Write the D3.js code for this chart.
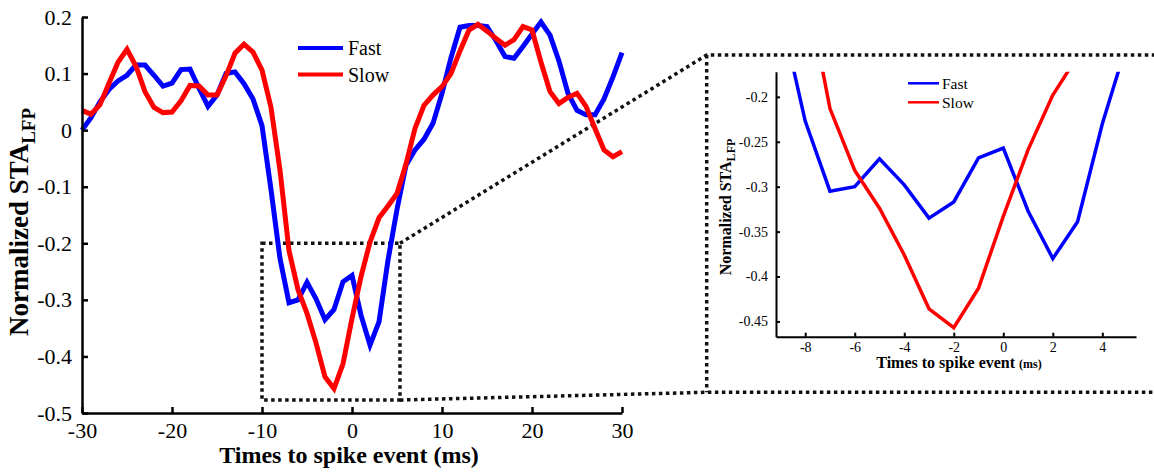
<!DOCTYPE html>
<html>
<head>
<meta charset="utf-8">
<script src="https://cdn.jsdelivr.net/npm/d3@7"></script>
<style>
  body { margin: 0; background: #fff; }
  svg { display: block; font-family: "Liberation Serif", "Times New Roman", serif; }
  svg text { font-family: "Liberation Serif", "Times New Roman", serif; }
</style>
</head>
<body>
<div id="chart"></div>
<script>
// time axis (ms), one sample per ms
const times = d3.range(-30, 31);

const fastValues = [
  0.000, 0.022, 0.050, 0.072, 0.087, 0.097, 0.115, 0.115, 0.097, 0.078,
  0.083, 0.107, 0.108, 0.074, 0.042, 0.062, 0.100, 0.103, 0.082, 0.055,
  0.008, -0.105, -0.227, -0.305, -0.300, -0.269, -0.298, -0.335, -0.317, -0.268,
  -0.257, -0.327, -0.380, -0.339, -0.230, -0.140, -0.062, -0.035, -0.016, 0.012,
  0.065, 0.128, 0.182, 0.185, 0.185, 0.183, 0.158, 0.130, 0.127, 0.148,
  0.170, 0.191, 0.168, 0.122, 0.065, 0.035, 0.027, 0.027, 0.055, 0.094,
  0.137
];

const slowValues = [
  0.035, 0.028, 0.045, 0.083, 0.120, 0.143, 0.113, 0.068, 0.040, 0.031,
  0.032, 0.052, 0.079, 0.078, 0.062, 0.062, 0.096, 0.136, 0.152, 0.138,
  0.106, 0.040, -0.071, -0.213, -0.282, -0.324, -0.376, -0.436, -0.457, -0.413,
  -0.333, -0.259, -0.198, -0.155, -0.134, -0.112, -0.060, 0.003, 0.044, 0.062,
  0.077, 0.100, 0.140, 0.177, 0.187, 0.175, 0.162, 0.150, 0.160, 0.183,
  0.177, 0.120, 0.068, 0.047, 0.058, 0.065, 0.042, 0.003, -0.035, -0.047,
  -0.038
];

const seriesNames = ["Fast", "Slow"];
const seriesColors = ["#0000ff", "#ff0000"];

const mainXTicks = [-30, -20, -10, 0, 10, 20, 30];
const mainYTicks = [0.2, 0.1, 0, -0.1, -0.2, -0.3, -0.4, -0.5];
const insetXTicks = [-8, -6, -4, -2, 0, 2, 4];
const insetYTicks = [-0.2, -0.25, -0.3, -0.35, -0.4, -0.45];

// zoomed window marked on the main plot
const zoomT = [-10, 5.33];
const zoomV = [-0.477, -0.2];

const series = seriesNames.map((name, i) => ({
  name: name,
  color: seriesColors[i],
  values: times.map((t, j) => ({ t: t, v: (i === 0 ? fastValues : slowValues)[j] }))
}));

const W = 1154, H = 474;
const serif = "'Liberation Serif', 'Times New Roman', serif";

const svg = d3.select("#chart").append("svg")
  .attr("width", W)
  .attr("height", H);

const dotted = { stroke: "#111", width: 3.5, dash: "3.5,3.5" };

// ---------- main plot ----------
const x = d3.scaleLinear().domain([-30, 30]).range([82, 622]);
const y = d3.scaleLinear().domain([-0.5, 0.2]).range([413, 17]);

const line = d3.line().x(d => x(d.t)).y(d => y(d.v));

// dotted zoom box + connectors (under the curves)
const bx0 = x(zoomT[0]), bx1 = x(zoomT[1]), by0 = y(zoomV[1]), by1 = y(zoomV[0]);
const frameLeft = 706.7, frameTop = 55, frameBottom = 392.3;

svg.append("rect")
  .attr("x", bx0).attr("y", by0)
  .attr("width", bx1 - bx0).attr("height", by1 - by0)
  .attr("fill", "none")
  .attr("stroke", dotted.stroke)
  .attr("stroke-width", dotted.width)
  .attr("stroke-dasharray", dotted.dash);

svg.append("path")
  .attr("d", `M${bx1},${by0}L${frameLeft},${frameTop}H${W + 5}M${bx1},${by1}L${frameLeft},${frameBottom}H${W + 5}M${frameLeft},${frameTop}V${frameBottom}`)
  .attr("fill", "none")
  .attr("stroke", dotted.stroke)
  .attr("stroke-width", dotted.width)
  .attr("stroke-dasharray", dotted.dash);

svg.append("g")
  .selectAll("path")
  .data(series)
  .enter().append("path")
  .attr("d", d => line(d.values))
  .attr("fill", "none")
  .attr("stroke", d => d.color)
  .attr("stroke-width", 5);

// axes
const xAxis = svg.append("g")
  .attr("transform", "translate(0," + 413 + ")")
  .call(d3.axisBottom(x).tickValues(mainXTicks).tickFormat(d => String(d))
    .tickSizeInner(-6).tickSizeOuter(0).tickPadding(9));
const yAxis = svg.append("g")
  .attr("transform", "translate(" + 82 + ",0)")
  .call(d3.axisLeft(y).tickValues(mainYTicks).tickFormat(d => String(d))
    .tickSizeInner(-6).tickSizeOuter(0).tickPadding(10));

[xAxis, yAxis].forEach(a => {
  a.attr("font-family", serif).attr("font-size", 22);
  a.select(".domain").attr("stroke", "#000").attr("stroke-width", 2.5);
  a.selectAll(".tick line").attr("stroke", "#000").attr("stroke-width", 2.5);
  a.selectAll(".tick text")
    .attr("font-family", serif)
    .style("font-size", "22px").attr("fill", "#000");
});

svg.append("text")
  .attr("x", 349).attr("y", 463)
  .attr("text-anchor", "middle")
  .style("font-size", "24px").style("font-weight", "bold")
  .text("Times to spike event (ms)");

const yTitle = svg.append("text")
  .attr("transform", "translate(28,222) rotate(-90)")
  .attr("text-anchor", "middle")
  .style("font-size", "27px").style("font-weight", "bold");
yTitle.append("tspan").text("Normalized STA");
yTitle.append("tspan").attr("dy", "0.35em").style("font-size", "19px").text("LFP");

// legend
const legend = svg.append("g");
series.forEach((s, i) => {
  const ly = 48 + i * 26.5;
  legend.append("line")
    .attr("x1", 298).attr("x2", 343).attr("y1", ly).attr("y2", ly)
    .attr("stroke", s.color).attr("stroke-width", 4);
  legend.append("text")
    .attr("x", 348).attr("y", ly).attr("dy", "0.35em")
    .style("font-size", "20px").text(s.name);
});

// ---------- inset ----------
const ix = d3.scaleLinear().domain([-9.18, 5.36]).range([776, 1136]);
const iy = d3.scaleLinear().domain([-0.467, -0.172]).range([336.7, 71.7]);

svg.append("clipPath").attr("id", "insetClip")
  .append("rect")
  .attr("x", 776).attr("y", 71.7)
  .attr("width", 1136 - 776).attr("height", 336.7 - 71.7);

const iline = d3.line().x(d => ix(d.t)).y(d => iy(d.v));

svg.append("g")
  .attr("clip-path", "url(#insetClip)")
  .selectAll("path")
  .data(series)
  .enter().append("path")
  .attr("d", d => iline(d.values))
  .attr("fill", "none")
  .attr("stroke", d => d.color)
  .attr("stroke-width", 3.5);

const ixAxis = svg.append("g")
  .attr("transform", "translate(0," + 336.7 + ")")
  .call(d3.axisBottom(ix).tickValues(insetXTicks).tickFormat(d => String(d))
    .tickSizeInner(-4).tickSizeOuter(0).tickPadding(5));
const iyAxis = svg.append("g")
  .attr("transform", "translate(" + 776 + ",0)")
  .call(d3.axisLeft(iy).tickValues(insetYTicks).tickFormat(d => String(d))
    .tickSizeInner(-4).tickSizeOuter(0).tickPadding(8));

[ixAxis, iyAxis].forEach(a => {
  a.attr("font-family", serif).attr("font-size", 14);
  a.select(".domain").attr("stroke", "#000").attr("stroke-width", 2);
  a.selectAll(".tick line").attr("stroke", "#000").attr("stroke-width", 2);
  a.selectAll(".tick text")
    .attr("font-family", serif)
    .style("font-size", "14px").attr("fill", "#000");
});

const ixTitle = svg.append("text")
  .attr("x", 959).attr("y", 368)
  .attr("text-anchor", "middle")
  .style("font-size", "16px").style("font-weight", "bold");
ixTitle.append("tspan").text("Times to spike event ");
ixTitle.append("tspan").style("font-size", "12px").text("(ms)");

const iyTitle = svg.append("text")
  .attr("transform", "translate(731,207) rotate(-90)")
  .attr("text-anchor", "middle")
  .style("font-size", "16px").style("font-weight", "bold");
iyTitle.append("tspan").text("Normalized STA");
iyTitle.append("tspan").attr("dy", "0.35em").style("font-size", "12px").text("LFP");

const ilegend = svg.append("g");
series.forEach((s, i) => {
  const ly = 83.3 + i * 19;
  ilegend.append("line")
    .attr("x1", 908).attr("x2", 939).attr("y1", ly).attr("y2", ly)
    .attr("stroke", s.color).attr("stroke-width", 2.5);
  ilegend.append("text")
    .attr("x", 942).attr("y", ly).attr("dy", "0.35em")
    .style("font-size", "15.5px").text(s.name);
});
</script>
</body>
</html>
